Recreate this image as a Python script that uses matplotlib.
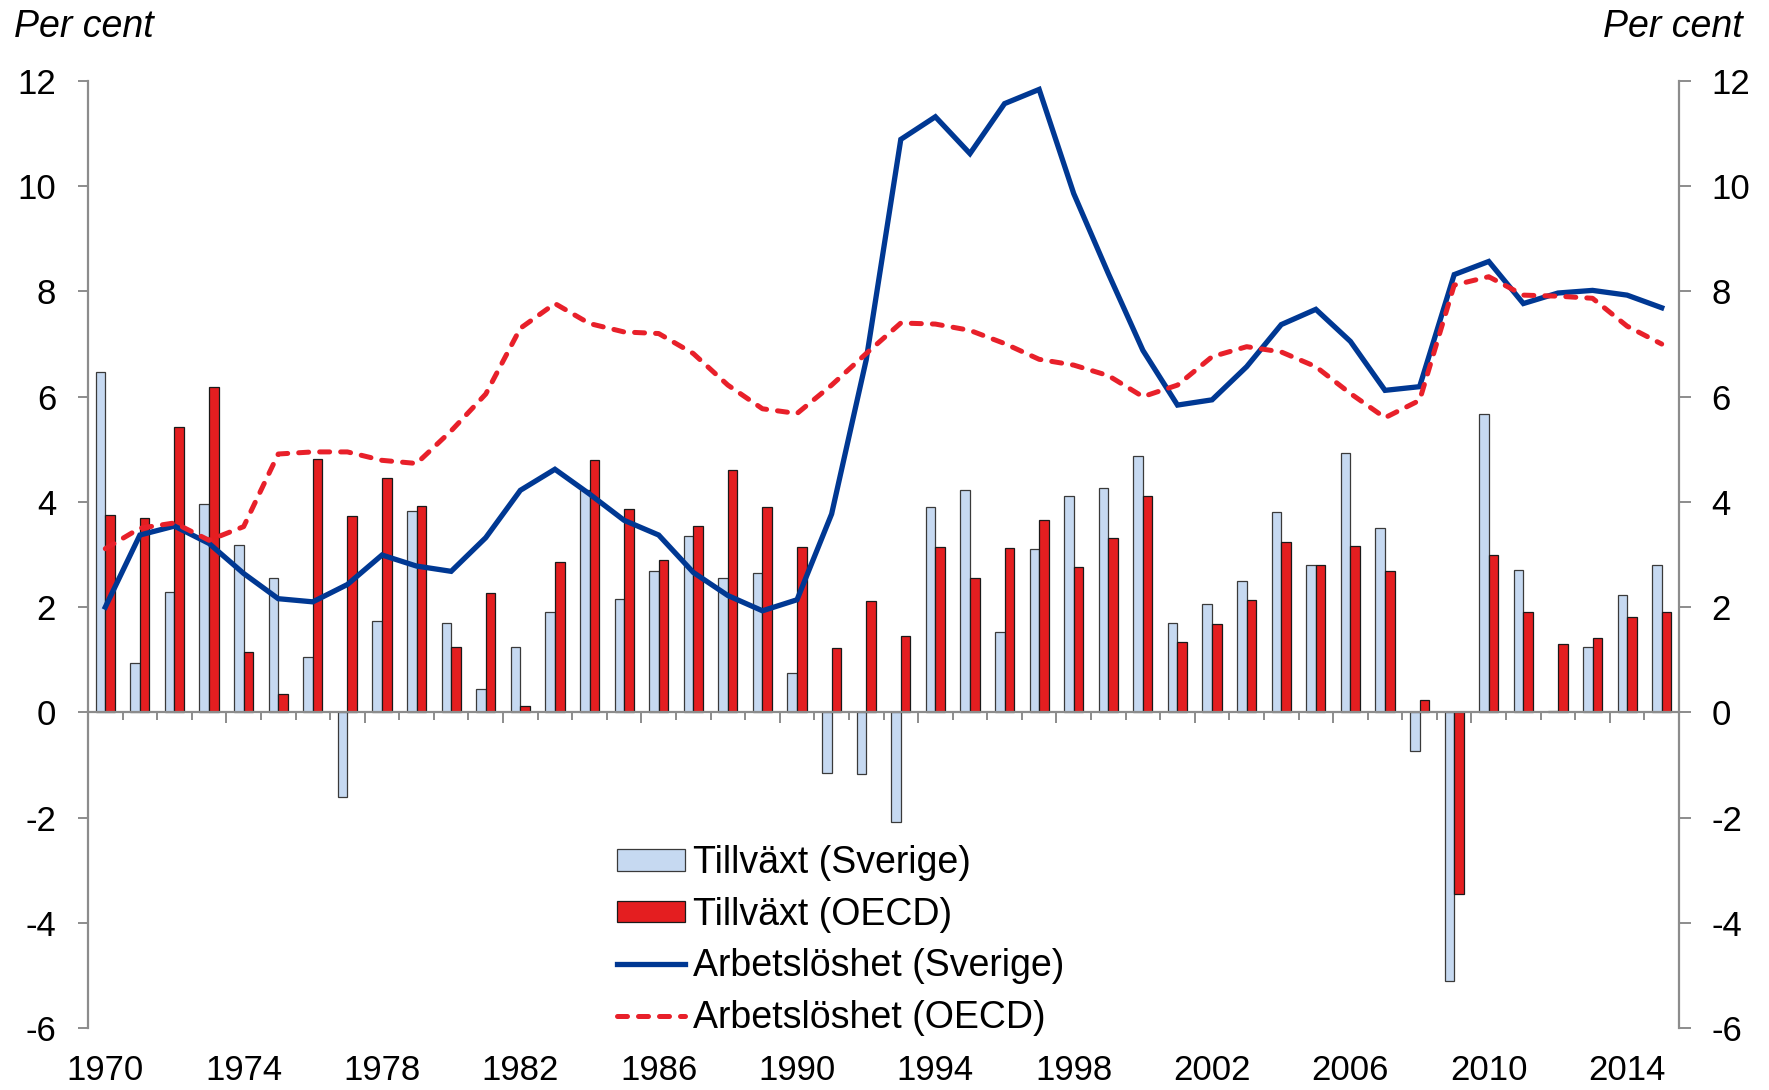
import matplotlib
matplotlib.use("Agg")
import numpy as np
from matplotlib import pyplot as plt
from matplotlib.patches import Patch
from matplotlib.lines import Line2D

years = list(range(1970, 2016))

swe_growth = [6.47, 0.94, 2.29, 3.96, 3.19, 2.56, 1.05, -1.60, 1.74, 3.83,
              1.69, 0.45, 1.24, 1.90, 4.22, 2.15, 2.68, 3.35, 2.55, 2.64,
              0.74, -1.15, -1.17, -2.08, 3.91, 4.23, 1.53, 3.10, 4.12, 4.26,
              4.87, 1.70, 2.06, 2.50, 3.80, 2.80, 4.92, 3.51, -0.73, -5.10,
              5.68, 2.71, 0.02, 1.25, 2.23, 2.80]
oecd_growth = [3.76, 3.70, 5.42, 6.19, 1.14, 0.34, 4.81, 3.73, 4.46, 3.93,
               1.24, 2.26, 0.12, 2.85, 4.79, 3.86, 2.90, 3.54, 4.61, 3.91,
               3.15, 1.22, 2.11, 1.45, 3.15, 2.56, 3.13, 3.66, 2.76, 3.32,
               4.11, 1.33, 1.67, 2.13, 3.23, 2.80, 3.17, 2.68, 0.24, -3.46,
               3.00, 1.91, 1.29, 1.42, 1.81, 1.90]
swe_unemp = [2.00, 3.37, 3.54, 3.21, 2.64, 2.16, 2.10, 2.43, 2.99, 2.78,
             2.68, 3.32, 4.22, 4.62, 4.15, 3.65, 3.37, 2.66, 2.22, 1.93,
             2.14, 3.77, 6.70, 10.89, 11.32, 10.62, 11.57, 11.84, 9.86, 8.34,
             6.88, 5.84, 5.94, 6.57, 7.37, 7.66, 7.05, 6.12, 6.19, 8.32,
             8.57, 7.77, 7.97, 8.02, 7.93, 7.69]
oecd_unemp = [3.11, 3.50, 3.60, 3.27, 3.53, 4.91, 4.95, 4.95, 4.79, 4.73,
              5.35, 6.05, 7.30, 7.77, 7.39, 7.23, 7.20, 6.82, 6.22, 5.77,
              5.68, 6.22, 6.82, 7.40, 7.38, 7.26, 7.01, 6.71, 6.60, 6.40,
              6.00, 6.22, 6.76, 6.95, 6.85, 6.57, 6.06, 5.60, 5.93, 8.12,
              8.28, 7.93, 7.91, 7.87, 7.34, 7.00]

labels = ["Tillväxt (Sverige)", "Tillväxt (OECD)",
          "Arbetslöshet (Sverige)", "Arbetslöshet (OECD)"]

LIGHT = "#C6D9F1"
RED = "#E41E20"
BLUE = "#003893"
DASH_RED = "#E8202A"
GREY = "#8C8C8C"


def main():
    plt.rcParams["font.family"] = ["Liberation Sans", "DejaVu Sans"]
    plt.rcParams["axes.unicode_minus"] = False

    fig = plt.figure(figsize=(17.69, 10.90), dpi=100)
    ax = fig.add_axes([88 / 1769, 62 / 1090, (1679 - 88) / 1769, (1028 - 81) / 1090])

    x = np.arange(len(years))
    w = 0.277
    ax.bar(x - w / 2, swe_growth, w, color=LIGHT, edgecolor="#3A3A3A", linewidth=0.9, zorder=2)
    ax.bar(x + w / 2, oecd_growth, w, color=RED, edgecolor="#1A1A1A", linewidth=0.9, zorder=2)
    ax.plot(x, swe_unemp, color=BLUE, lw=3.8, zorder=4, solid_joinstyle="miter")
    ax.plot(x, oecd_unemp, color=DASH_RED, lw=3.6, ls=(0, (2.0, 2.2)),
            dash_capstyle="round", zorder=5)

    ax.set_xlim(-0.5, len(years) - 0.5)
    ax.set_ylim(-6, 12)
    ax.set_yticks(range(-6, 13, 2))

    for s in ["top", "right"]:
        ax.spines[s].set_visible(False)
    ax.spines["left"].set_color(GREY)
    ax.spines["left"].set_linewidth(1.6)
    ax.spines["bottom"].set_position(("data", 0))
    ax.spines["bottom"].set_color(GREY)
    ax.spines["bottom"].set_linewidth(1.6)
    ax.spines["bottom"].set_zorder(3)

    ax.set_xticks(np.arange(-0.5, len(years), 4))
    ax.set_xticks(np.arange(-0.5, len(years), 1), minor=True)
    ax.tick_params(axis="x", which="major", length=8, width=1.4, color=GREY,
                   direction="out", labelbottom=False)
    ax.tick_params(axis="x", which="minor", length=5.5, width=1.4, color=GREY,
                   direction="out")
    ax.tick_params(axis="y", length=7, width=1.4, color=GREY, pad=16, labelsize=25)

    ax2 = ax.twinx()
    ax2.set_ylim(-6, 12)
    ax2.set_yticks(range(-6, 13, 2))
    for s in ["top", "left", "bottom"]:
        ax2.spines[s].set_visible(False)
    ax2.spines["right"].set_color(GREY)
    ax2.spines["right"].set_linewidth(1.6)
    ax2.tick_params(axis="y", length=8.5, width=1.4, color=GREY, pad=15, labelsize=25)

    sec = ax.secondary_xaxis(0)
    sec.set_xticks(x[::4])
    sec.set_xticklabels([str(y) for y in years[::4]])
    sec.tick_params(length=0, pad=19, labelsize=25)
    sec.spines["bottom"].set_visible(False)

    fig.text(14 / 1769, 1 - 37 / 1090, "Per cent", fontsize=27, style="italic", va="baseline")
    fig.text(1743 / 1769, 1 - 37 / 1090, "Per cent", fontsize=27, style="italic",
             va="baseline", ha="right")

    handles = [Patch(facecolor=LIGHT, edgecolor="#3A3A3A", linewidth=0.9),
               Patch(facecolor=RED, edgecolor="#1A1A1A", linewidth=0.9),
               Line2D([], [], color=BLUE, lw=3.8),
               Line2D([], [], color=DASH_RED, lw=3.6, ls=(0, (2.0, 2.2)), dash_capstyle="round")]
    fig.legend(handles, labels, loc="upper left", bbox_to_anchor=(617 / 1769, 1 - 845 / 1090),
               frameon=False, fontsize=27, handlelength=1.82, handleheight=0.52,
               handletextpad=0.2, labelspacing=0.42, borderpad=0, borderaxespad=0)

    fig.savefig("out.png", dpi=100)


if __name__ == "__main__":
    main()
